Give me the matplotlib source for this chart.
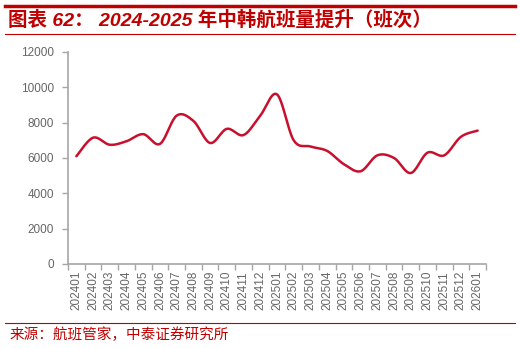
import numpy as np
import matplotlib
matplotlib.use("Agg")
import matplotlib.pyplot as plt
from matplotlib.lines import Line2D

plt.rcParams['font.family'] = ['Liberation Sans', 'Noto Sans CJK SC', 'DejaVu Sans']

categories = ["202401", "202402", "202403", "202404", "202405", "202406", "202407",
              "202408", "202409", "202410", "202411", "202412", "202501", "202502",
              "202503", "202504", "202505", "202506", "202507", "202508", "202509",
              "202510", "202511", "202512", "202601"]
flights = [6100, 7150, 6750, 6950, 7350, 6800, 8400, 8100, 6850, 7650, 7300, 8400,
           9600, 7000, 6650, 6400, 5650, 5250, 6150, 6000, 5150, 6300, 6150, 7200, 7550]
y_ticks = [0, 2000, 4000, 6000, 8000, 10000, 12000]

title = "图表 62： 2024-2025 年中韩航班量提升（班次）"
source = "来源：航班管家，中泰证券研究所"


def catmull_rom(x, y, n=20, tension=0.5):
    x = np.asarray(x, float); y = np.asarray(y, float)
    px = np.concatenate([[x[0]], x, [x[-1]]])
    py = np.concatenate([[y[0]], y, [y[-1]]])
    xs, ys = [], []
    for i in range(1, len(px) - 2):
        t = np.linspace(0, 1, n, endpoint=False)
        m1x = tension * (px[i + 1] - px[i - 1]); m2x = tension * (px[i + 2] - px[i])
        m1y = tension * (py[i + 1] - py[i - 1]); m2y = tension * (py[i + 2] - py[i])
        h00 = 2 * t**3 - 3 * t**2 + 1; h10 = t**3 - 2 * t**2 + t
        h01 = -2 * t**3 + 3 * t**2; h11 = t**3 - t**2
        xs.append(h00 * px[i] + h10 * m1x + h01 * px[i + 1] + h11 * m2x)
        ys.append(h00 * py[i] + h10 * m1y + h01 * py[i + 1] + h11 * m2y)
    xs.append([x[-1]]); ys.append([y[-1]])
    return np.concatenate(xs), np.concatenate(ys)


fig = plt.figure(figsize=(5.2, 3.48), dpi=100)
ax = fig.add_axes([68 / 520, 1 - 264 / 348, (486 - 68) / 520, (264 - 52) / 348])

xpos = np.arange(len(categories))
sx, sy = catmull_rom(xpos, flights)
ax.plot(sx, sy, color='#C8102E', lw=1.8, solid_capstyle='round')

ax.set_xlim(-0.5, len(categories) - 0.5)
ax.set_ylim(0, 12000)
ax.set_yticks(y_ticks)
ax.set_yticklabels([str(v) for v in y_ticks])
ax.set_xticks(xpos)
ax.set_xticklabels(categories, rotation=90)
ax.tick_params(axis='x', length=0, pad=5, labelsize=8.5, labelcolor='#666666')
ax.set_xticks(np.arange(-0.5, len(categories)), minor=True)
ax.tick_params(axis='x', which='minor', length=4, color='#A6A6A6', width=1)
ax.tick_params(axis='y', length=4, color='#A6A6A6', width=1, pad=6,
               labelsize=8.5, labelcolor='#666666')
for s in ['top', 'right']:
    ax.spines[s].set_visible(False)
for s in ['left', 'bottom']:
    ax.spines[s].set_color('#A6A6A6')
    ax.spines[s].set_linewidth(1.2)

red = '#C00000'
fig.add_artist(Line2D([5 / 520, 515 / 520], [1 - 6 / 348, 1 - 6 / 348], color=red, lw=2.5))
fig.add_artist(Line2D([5 / 520, 515 / 520], [1 - 34 / 348, 1 - 34 / 348], color=red, lw=0.8))
fig.add_artist(Line2D([5 / 520, 515 / 520], [1 - 323 / 348, 1 - 323 / 348], color=red, lw=0.8))
fig.text(8 / 520, 1 - 20 / 348, title, color=red, fontsize=14, fontweight='bold',
         style='italic', va='center', ha='left',
         family=['Liberation Sans', 'Noto Sans CJK SC'])
fig.text(10 / 520, 1 - 335 / 348, source, color=red, fontsize=10.5, va='center', ha='left',
         family=['Noto Sans CJK SC'])

fig.savefig('out.png', dpi=100)
